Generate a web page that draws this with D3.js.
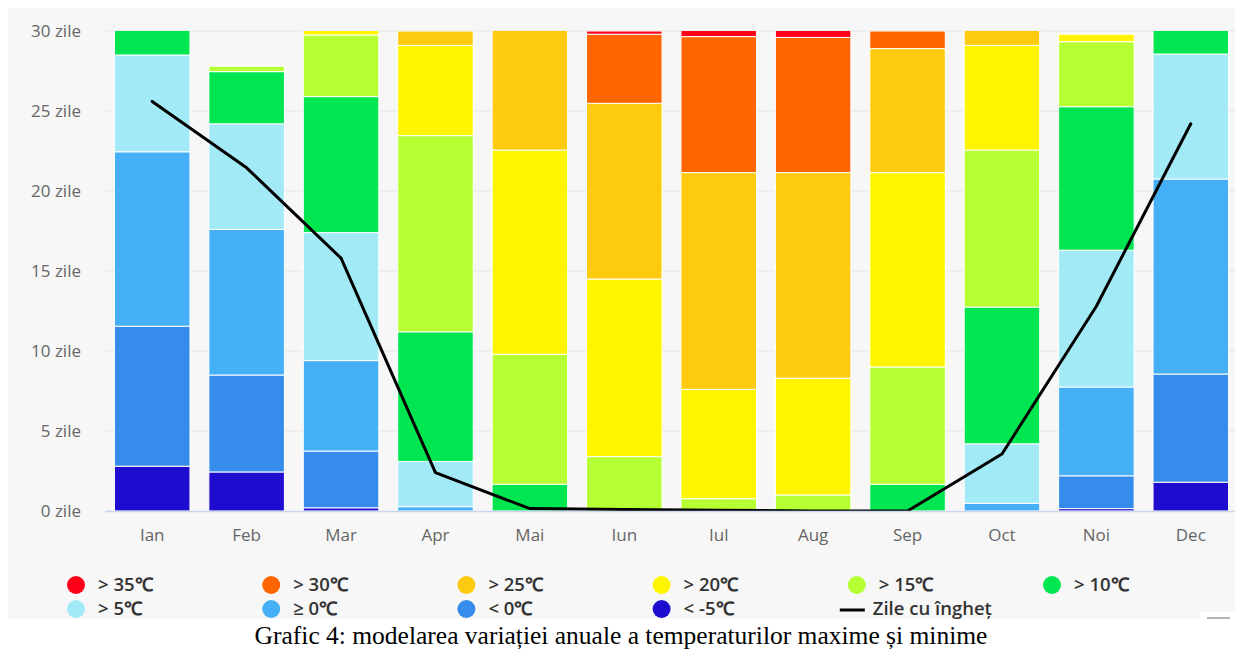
<!DOCTYPE html>
<html><head><meta charset="utf-8">
<script src="https://cdn.jsdelivr.net/npm/d3@7/dist/d3.min.js"></script>
<style>body{margin:0;background:#fff;}svg{display:block;}</style>
</head><body><svg id="c" width="1235" height="649"></svg>
<script>
const months = ["Ian","Feb","Mar","Apr","Mai","Iun","Iul","Aug","Sep","Oct","Noi","Dec"];
const seriesNames = ["< -5℃","< 0℃","≥ 0℃","> 5℃","> 10℃","> 15℃","> 20℃","> 25℃","> 30℃","> 35℃"];
const seriesColors = ["#1e0dce","#358cea","#46b0f6","#a3eaf7","#00e650","#b6ff33","#fff500","#fdca10","#ff6600","#ff0019"];
// values per series (bottom -> top), one per month
const belowMinus5 = [2.8, 2.44, 0.2, 0,    0,    0,    0,    0,    0,    0,    0.15, 1.8];
const below0      = [8.75,6.06, 3.55,0,    0,    0,    0,    0,    0,    0,    2.05, 6.76];
const atLeast0    = [10.9,9.1,  5.65,0.27, 0,    0,    0,    0,    0,    0.48, 5.55, 12.19];
const above5      = [6.05,6.6,  8.0, 2.83, 0,    0,    0,    0,    0,    3.72, 8.55, 7.81];
const above10     = [2.5, 3.26, 8.5, 8.1,  1.67, 0,    0,    0,    1.67, 8.55, 8.97, 2.44];
const above15     = [0,   0.34, 3.85,12.26,8.13, 3.4,  0.77, 1.0,  7.33, 9.81, 4.06, 0];
const above20     = [0,   0,    1.25,5.64, 12.76,11.1, 6.83, 7.3,  12.15,6.54, 0.47, 0];
const above25     = [0,   0,    0,   0.9,  8.44, 10.98,13.55,12.85,7.75, 1.9,  0,    0];
const above30     = [0,   0,    0,   0,    0,    4.32, 8.5,  8.45, 1.1,  0,    0,    0];
const above35     = [0,   0,    0,   0,    0,    0.2,  1.35, 1.4,  0,    0,    0,    0];
const frostDays   = [25.6,21.45,15.8,2.4,  0.15, 0.1,  0.05, 0,    0,    3.56, 12.8, 24.2];
const yTicks = [0,5,10,15,20,25,30];
const frostName = "Zile cu îngheț";
const caption = "Grafic 4: modelarea variației anuale a temperaturilor maxime și minime";

const allSeries = [belowMinus5,below0,atLeast0,above5,above10,above15,above20,above25,above30,above35];
const table = months.map((m,i)=>{const o={month:m}; allSeries.forEach((s,k)=>o["s"+k]=s[i]); return o;});
const keys = allSeries.map((s,k)=>"s"+k);
const stacked = d3.stack().keys(keys)(table);

const svg = d3.select("#c");
const font = "'Open Sans', sans-serif";
svg.append("rect").attr("x",8).attr("y",8).attr("width",1227).attr("height",611).attr("fill","#f7f7f7");

const L=105, R=1238, T=31, B=511;
const x = d3.scaleBand().domain(months).range([L,R]).paddingInner(0.2).paddingOuter(0.1);
const y = d3.scaleLinear().domain([0,30]).range([B,T]);

svg.append("defs").append("clipPath").attr("id","clip").append("rect")
  .attr("x",L).attr("y",T).attr("width",R-L).attr("height",B-T);

// grid
svg.append("g").selectAll("line").data(yTicks.filter(d=>d>0)).join("line")
  .attr("x1",L).attr("x2",R).attr("y1",d=>y(d)).attr("y2",d=>y(d))
  .attr("stroke","#e6e6e6").attr("stroke-width",1);
// y labels
svg.append("g").selectAll("text").data(yTicks).join("text")
  .attr("x",81).attr("y",d=>y(d)).attr("dy","0.35em").attr("text-anchor","end")
  .attr("font-family",font).attr("font-size",17).attr("fill","#666")
  .text(d=>d+" zile");

// bars
const gb = svg.append("g").attr("clip-path","url(#clip)");
stacked.forEach((layer,k)=>{
  gb.append("g").selectAll("rect").data(layer.filter(d=>d[1]-d[0]>0)).join("rect")
    .attr("x",d=>x(d.data.month)).attr("width",x.bandwidth())
    .attr("y",d=>y(d[1])).attr("height",d=>y(d[0])-y(d[1]))
    .attr("fill",seriesColors[k]).attr("stroke","#ffffff").attr("stroke-width",1);
});

// x axis line
svg.append("line").attr("x1",L).attr("x2",R).attr("y1",B+0.5).attr("y2",B+0.5)
  .attr("stroke","#ccd6eb").attr("stroke-width",1.5);
svg.append("g").selectAll("text").data(months).join("text")
  .attr("x",d=>x(d)+x.bandwidth()/2).attr("y",535).attr("dy","0.35em").attr("text-anchor","middle")
  .attr("font-family",font).attr("font-size",17).attr("fill","#666").text(d=>d);

// frost line
const line = d3.line().x((d,i)=>x(months[i])+x.bandwidth()/2).y(d=>y(d));
gb.append("path").datum(frostDays).attr("d",line).attr("fill","none")
  .attr("stroke","#000").attr("stroke-width",3).attr("stroke-linejoin","round").attr("stroke-linecap","round");

// legend
const legendItems = [];
for(let k=9;k>=0;k--) legendItems.push({name:seriesNames[k],color:seriesColors[k],type:"dot"});
legendItems.push({name:frostName,color:"#000",type:"line"});
const lg = svg.append("g");
legendItems.forEach((it,i)=>{
  const col=i%6,row=Math.floor(i/6);
  const cx = 76 + col*195.2, cy = 585 + row*24;
  if(it.type==="dot"){
    lg.append("circle").attr("cx",cx).attr("cy",cy).attr("r",9).attr("fill",it.color);
  } else {
    lg.append("line").attr("x1",cx-17).attr("x2",cx+8).attr("y1",cy+1).attr("y2",cy+1)
      .attr("stroke","#000").attr("stroke-width",3);
  }
  lg.append("text").attr("x",cx+(it.type==="dot"?22:16)).attr("y",cy).attr("dy","0.35em")
    .attr("font-family",font).attr("font-size",18.5).attr("font-weight",600).attr("fill","#333").text(it.name);
});

// small white box at bottom right
svg.append("rect").attr("x",1200).attr("y",612).attr("width",35).attr("height",8).attr("fill","#fff");
svg.append("line").attr("x1",1207).attr("x2",1230).attr("y1",618).attr("y2",618).attr("stroke","#666").attr("stroke-width",1);

// caption
svg.append("text").attr("x",621).attr("y",644).attr("text-anchor","middle")
  .attr("font-family","'Liberation Serif','Times New Roman',serif").attr("font-size",25.5).attr("fill","#000")
  .text(caption);
</script></body></html>
